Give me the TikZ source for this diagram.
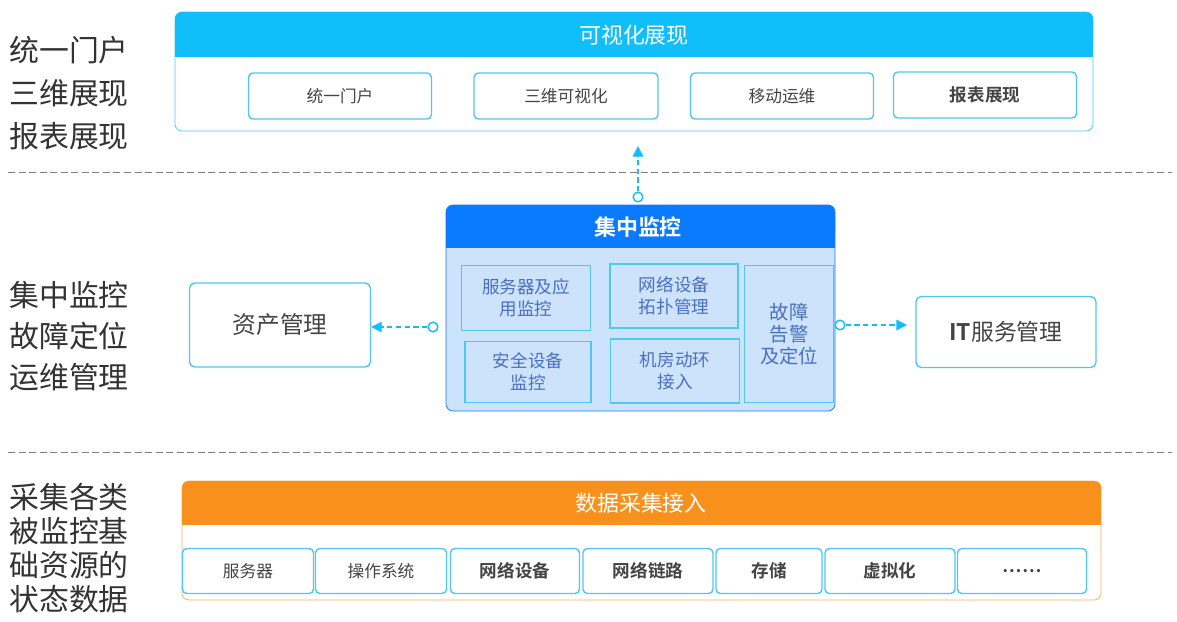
\documentclass[tikz,border=0pt]{standalone}
\usepackage{fontspec}
\setmainfont{Noto Sans CJK SC}[BoldFont={Noto Sans CJK SC Bold}]
\usetikzlibrary{arrows.meta}

\definecolor{topblue}{HTML}{10BEF9}
\definecolor{midblue}{HTML}{0A7BFF}
\definecolor{midfill}{HTML}{CDE3FC}
\definecolor{edgeblue}{HTML}{4DC8F4}
\definecolor{itemtext}{HTML}{4A6FC0}
\definecolor{dataorange}{HTML}{F8901C}
\definecolor{sidegray}{HTML}{333333}
\definecolor{boxgray}{HTML}{444444}

\tikzset{
  sidelabel/.style={anchor=west, align=left, text=sidegray, inner sep=0pt},
  headtitle/.style={text=white, font=\fontsize{12.5}{14}\selectfont},
  itembox/.style={draw=edgeblue, rounded corners=2.5pt, fill=white, thick,
    text=boxgray, font=\fontsize{9.5}{11}\selectfont, inner sep=0pt},
  subbox/.style={draw=edgeblue, fill=midfill, thick, text=itemtext, align=center,
    font=\fontsize{10}{12.5}\selectfont, inner sep=0pt},
  sidebox/.style={draw=edgeblue, rounded corners=3pt, fill=white, thick,
    text=boxgray, inner sep=0pt},
  ring/.style={circle, draw=topblue, fill=white, thick, inner sep=0pt, minimum size=5.5pt},
  link/.style={topblue, thick, dash pattern=on 3pt off 2pt, -{Triangle[length=6pt,width=6pt]}},
  divider/.style={gray, dash pattern=on 4pt off 2pt}
}

\begin{document}
\begin{tikzpicture}
 \begin{scope}[x=0.02cm,y=-0.02cm]
  \useasboundingbox (0,0) rectangle (1177,622);

  % side labels
  \node[sidelabel, font=\fontsize{17}{24.5}\selectfont] (lblview) at (9,93) {统一门户\\三维展现\\报表展现};
  \node[sidelabel, font=\fontsize{17}{23.5}\selectfont] (lblmon) at (9,336) {集中监控\\故障定位\\运维管理};
  \node[sidelabel, font=\fontsize{17}{19.3}\selectfont] (lbldata) at (9,548) {采集各类\\被监控基\\础资源的\\状态数据};

  % dividers
  \draw[divider] (8,172) -- (1172,172);
  \draw[divider] (8,452) -- (1172,452);

  % top layer
  \draw[edgeblue, fill=white, rounded corners=4pt] (175,12) rectangle (1093,131);
  \fill[topblue, rounded corners=4pt] (175,12) rectangle (1093,50);
  \fill[topblue] (175,30) rectangle (1093,57);
  \node[headtitle] (view) at (634,35) {可视化展现};
  \node[itembox, minimum width=183*0.02cm, minimum height=46*0.02cm] (portal) at (340,96) {统一门户};
  \node[itembox, minimum width=184*0.02cm, minimum height=46*0.02cm] (threed) at (566,96) {三维可视化};
  \node[itembox, minimum width=183*0.02cm, minimum height=46*0.02cm] (mobile) at (782,96) {移动运维};
  \node[itembox, minimum width=183*0.02cm, minimum height=46*0.02cm, font=\fontsize{10}{11}\selectfont\bfseries] (report) at (985,95) {报表展现};

  % middle layer
  \draw[midblue, fill=midfill, rounded corners=4pt] (446,205) rectangle (835,411);
  \fill[midblue, rounded corners=4pt] (446,205) rectangle (835,240);
  \fill[midblue] (446,222) rectangle (835,248);
  \node[headtitle, font=\fontsize{12.5}{14}\selectfont\bfseries] (monitor) at (638,227) {集中监控};
  \node[subbox, minimum width=129*0.02cm, minimum height=65*0.02cm] (srvmon) at (526,298) {服务器及应\\用监控};
  \node[subbox, minimum width=126*0.02cm, minimum height=61*0.02cm] (secmon) at (528,372) {安全设备\\监控};
  \node[subbox, minimum width=128*0.02cm, minimum height=64*0.02cm] (topo) at (674,296) {网络设备\\拓扑管理};
  \node[subbox, minimum width=129*0.02cm, minimum height=64*0.02cm] (room) at (675,371) {机房动环\\接入};
  \node[subbox, minimum width=89*0.02cm, minimum height=137*0.02cm, font=\fontsize{11}{12.5}\selectfont] (alarm) at (789,334) {故障\\告警\\及定位};

  % side boxes
  \node[sidebox, minimum width=181*0.02cm, minimum height=84*0.02cm, font=\fontsize{13.5}{15}\selectfont] (asset) at (280,325) {资产管理};
  \node[sidebox, minimum width=180*0.02cm, minimum height=71*0.02cm, font=\fontsize{13}{15}\selectfont] (itsm) at (1006,332) {\textbf{IT}服务管理};

  % connectors
  \node[ring] (ringup) at (638,197) {};
  \node[ring] (ringleft) at (433,327) {};
  \node[ring] (ringright) at (840,325) {};
  \coordinate (upend) at (638,146);
  \coordinate (rightend) at (907,325);
  \draw[link] (ringup) -- (upend);
  \draw[link] (ringleft) -- (asset.east |- ringleft);
  \draw[link] (ringright) -- (rightend);

  % bottom layer
  \draw[dataorange!70, fill=white, rounded corners=4pt] (182,481) rectangle (1101,600);
  \fill[dataorange, rounded corners=4pt] (182,481) rectangle (1101,515);
  \fill[dataorange] (182,498) rectangle (1101,525);
  \node[headtitle] (data) at (641,503) {数据采集接入};
  \node[itembox, minimum width=131*0.02cm, minimum height=45*0.02cm] (server) at (248,571) {服务器};
  \node[itembox, minimum width=131*0.02cm, minimum height=45*0.02cm] (os) at (381,571) {操作系统};
  \node[itembox, minimum width=129*0.02cm, minimum height=45*0.02cm, font=\fontsize{10}{11}\selectfont\bfseries] (netdev) at (515,571) {网络设备};
  \node[itembox, minimum width=130*0.02cm, minimum height=45*0.02cm, font=\fontsize{10}{11}\selectfont\bfseries] (netlink) at (648,571) {网络链路};
  \node[itembox, minimum width=106*0.02cm, minimum height=45*0.02cm, font=\fontsize{10}{11}\selectfont\bfseries] (storage) at (769,571) {存储};
  \node[itembox, minimum width=130*0.02cm, minimum height=45*0.02cm, font=\fontsize{10}{11}\selectfont\bfseries] (virt) at (890,571) {虚拟化};
  \node[itembox, minimum width=129*0.02cm, minimum height=45*0.02cm, font=\fontsize{10}{11}\selectfont\bfseries] (more) at (1022,571) {……};
 \end{scope}
\end{tikzpicture}
\end{document}
